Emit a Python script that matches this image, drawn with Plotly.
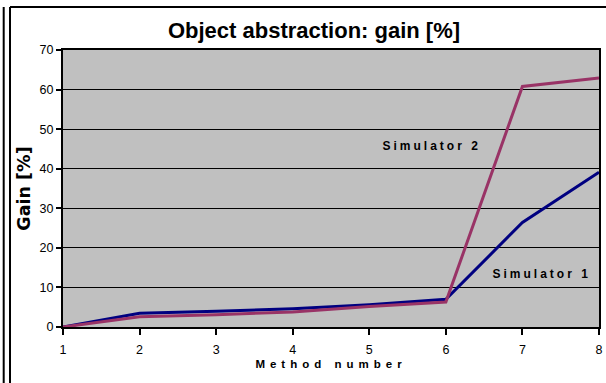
import plotly.graph_objects as go

methods = [1, 2, 3, 4, 5, 6, 7, 8]
sim1 = [0, 3.5, 4.0, 4.6, 5.6, 7.0, 26.4, 39.1]
sim2 = [0, 2.6, 3.1, 3.8, 5.2, 6.3, 60.8, 62.9]
y_ticks = [0, 10, 20, 30, 40, 50, 60, 70]

FONT = "Liberation Sans, Arial, sans-serif"

fig = go.Figure()
fig.add_trace(go.Scatter(x=methods, y=sim1, mode="lines", name="Simulator 1",
                         line=dict(color="#000080", width=3)))
fig.add_trace(go.Scatter(x=methods, y=sim2, mode="lines", name="Simulator 2",
                         line=dict(color="#993366", width=3)))

W_PLOT = 536.0
H_PLOT = 277.0
def px(x):
    return (x - 63) / W_PLOT
def py(y):
    return (327 - y) / H_PLOT

shapes = [
    dict(type="line", xref="paper", yref="paper", x0=px(3.7), x1=px(3.7), y0=py(7), y1=py(390),
         line=dict(color="black", width=2)),
    dict(type="line", xref="paper", yref="paper", x0=px(10), x1=px(10), y0=py(7), y1=py(390),
         line=dict(color="black", width=2)),
    dict(type="line", xref="paper", yref="paper", x0=px(10), x1=px(610), y0=py(7), y1=py(7),
         line=dict(color="black", width=2)),
]

fig.update_layout(
    width=606, height=383,
    margin=dict(l=63, r=7, t=50, b=56, autoexpand=False),
    paper_bgcolor="white",
    plot_bgcolor="#C0C0C0",
    showlegend=False,
    shapes=shapes,
    title=dict(text="<b>Object abstraction: gain [%]</b>", xref="container", yref="container",
               x=314/606, y=1 - 30/383, xanchor="center", yanchor="middle",
               font=dict(family=FONT, size=22, color="black")),
    annotations=[
        dict(x=5.82, y=45.8, xref="x", yref="y", text="<b>Simulator 2</b>", showarrow=False,
             xanchor="center", yanchor="middle", font=dict(family=FONT, size=12, color="black")),
        dict(x=7.25, y=13.3, xref="x", yref="y", text="<b>Simulator 1</b>", showarrow=False,
             xanchor="center", yanchor="middle", font=dict(family=FONT, size=12, color="black")),
    ],
)
fig.update_xaxes(
    range=[1, 8], tickvals=methods, ticktext=[str(m) for m in methods],
    automargin=False,
    showgrid=False, zeroline=False,
    showline=True, linecolor="black", linewidth=2, mirror=True,
    ticks="outside", ticklen=6, tickcolor="black", tickwidth=1.5,
    ticklabelstandoff=4,
    tickfont=dict(family=FONT, size=12.5, color="black"),
    title=dict(text="<b>Method number</b>", standoff=4,
               font=dict(family=FONT, size=11.5, color="black")),
)
fig.update_yaxes(
    range=[0, 70], tickvals=y_ticks,
    automargin=False,
    showgrid=True, gridcolor="black", gridwidth=1.3, zeroline=False,
    showline=True, linecolor="black", linewidth=2, mirror=True,
    ticks="outside", ticklen=5, tickcolor="black", tickwidth=1.5,
    tickfont=dict(family=FONT, size=12.5, color="black"),
    title=dict(text="<b>Gain [%]</b>", standoff=4,
               font=dict(family="DejaVu Sans, sans-serif", size=17.5, color="black")),
)

post = """
var s = document.createElement('style');
s.textContent = 'html,body{margin:0;padding:0;overflow:hidden;} .xtitle{letter-spacing:5px;} .annotation-text{letter-spacing:3px;}';
document.head.appendChild(s);
"""
fig.write_html("out.html", post_script=post, config={"displayModeBar": False})
